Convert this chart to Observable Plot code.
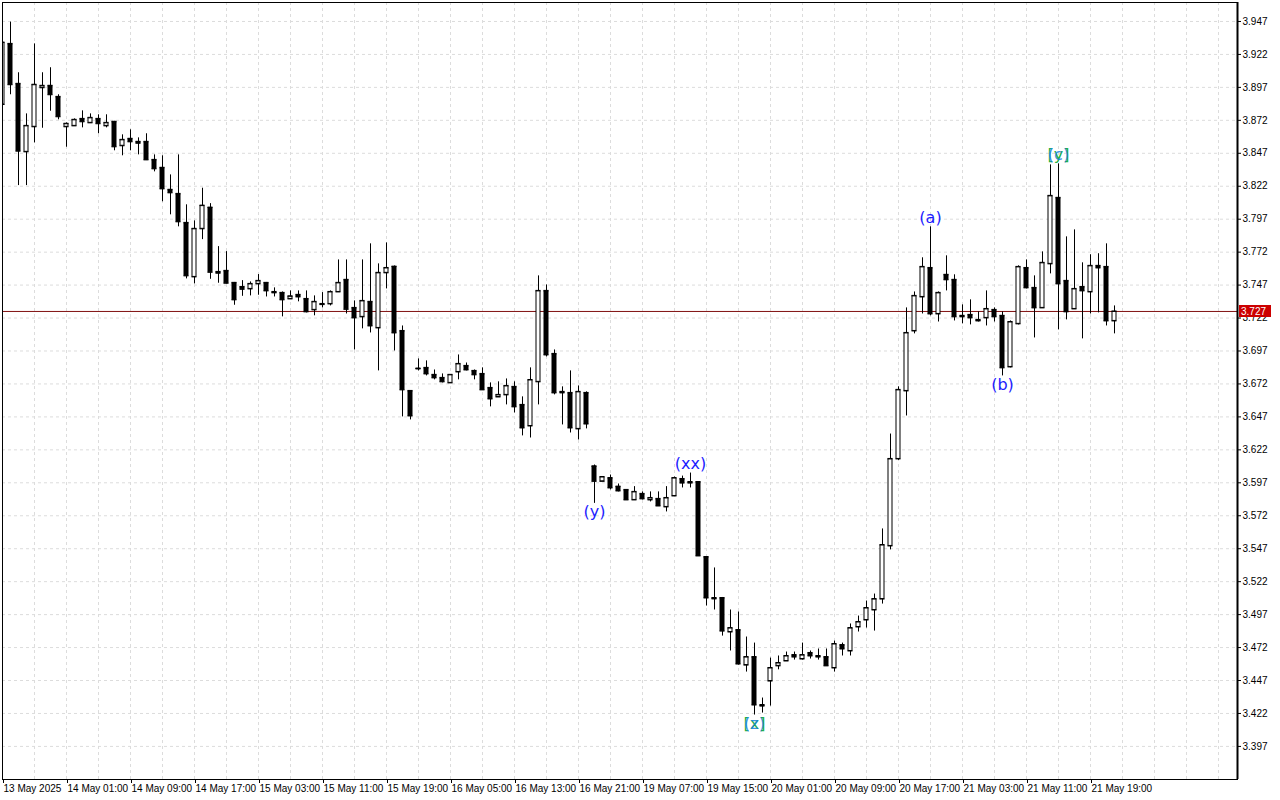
<!DOCTYPE html>
<html><head><meta charset="utf-8">
<script src="https://cdn.jsdelivr.net/npm/d3@7"></script>
<script src="https://cdn.jsdelivr.net/npm/@observablehq/plot@0.6"></script>
<style>
html,body{margin:0;padding:0;background:#fff;}
#chart svg{display:block;}
</style>
</head><body><div id="chart"></div>
<script>
// ---- Data (hourly OHLC) ----
const open = [3.884,3.930,3.8997,3.8481,3.8671,3.8967,3.8982,3.8898,3.8671,3.8678,
3.8731,3.8701,3.8731,3.8678,3.8709,3.8527,3.858,3.8557,3.8557,3.842,
3.836,3.8193,3.8162,3.7942,3.7532,3.7897,3.8058,3.757,3.7578,3.7487,
3.7456,3.7441,3.7479,3.7487,3.7418,3.7411,3.7365,3.7396,3.7365,3.7282,
3.7327,3.7327,3.7418,3.751,3.7297,3.7229,3.7343,3.7145,3.7563,3.761,
3.7122,3.6667,3.6837,3.6842,3.6789,3.6766,3.6728,3.6811,3.6857,3.6819,
3.6796,3.669,3.6621,3.6637,3.6698,3.6561,3.6401,3.6736,3.7426,3.6948,
3.666,3.6652,3.6379,3.6652,3.6095,3.5981,3.6006,3.5941,3.5916,3.584,
3.5886,3.584,3.5848,3.5787,3.587,3.5999,3.5976,3.5976,3.5407,3.5096,
3.5096,3.4838,3.4853,3.4587,3.4648,3.4284,3.4466,3.4581,3.4618,3.4663,
3.4633,3.4679,3.4656,3.4648,3.4565,3.4739,3.4694,3.4876,3.4929,3.5005,
3.5088,3.5491,3.6151,3.6667,3.7122,3.738,3.76,3.7251,3.7548,3.751,
3.7237,3.7244,3.7206,3.7221,3.7282,3.7237,3.6849,3.7176,3.76,3.7449,
3.7297,3.7631,3.8132,3.7502,3.7289,3.7456,3.7418,3.7616,3.7608,3.7198];
const high = [3.935,3.9465,3.9081,3.8769,3.930,3.9081,3.9119,3.8914,3.870,3.8731,
3.8792,3.8769,3.8762,3.8762,3.8712,3.861,3.8648,3.8587,3.8618,3.8458,
3.8451,3.8306,3.8458,3.8079,3.7957,3.8205,3.8088,3.7762,3.7724,3.749,
3.7504,3.7494,3.755,3.749,3.7449,3.7418,3.7426,3.7426,3.7426,3.7388,
3.7413,3.7426,3.7661,3.7661,3.735,3.7661,3.7783,3.7631,3.779,3.7615,
3.716,3.667,3.691,3.6895,3.6826,3.6796,3.6789,3.694,3.6879,3.6826,
3.6842,3.6728,3.6736,3.6758,3.6736,3.6622,3.6842,3.754,3.7471,3.6978,
3.6698,3.6819,3.6705,3.666,3.6105,3.6014,3.6029,3.5961,3.5916,3.5941,
3.5901,3.5901,3.5901,3.5941,3.6014,3.6021,3.6044,3.5976,3.5407,3.5324,
3.510,3.5005,3.499,3.480,3.4754,3.4337,3.464,3.4656,3.4686,3.4686,
3.4754,3.4694,3.4709,3.4709,3.4769,3.4754,3.4899,3.4959,3.5073,3.5126,
3.562,3.634,3.6698,3.7297,3.7418,3.7677,3.7912,3.7418,3.7692,3.7548,
3.732,3.7358,3.7267,3.7426,3.7297,3.7267,3.7198,3.7616,3.7661,3.754,
3.7722,3.8382,3.839,3.7836,3.7889,3.7639,3.770,3.7708,3.7783,3.7312];
const low = [3.880,3.8914,3.8225,3.8225,3.8549,3.866,3.8789,3.8724,3.8516,3.8678,
3.8663,3.8701,3.8618,3.8663,3.8489,3.8451,3.8489,3.8458,3.8415,3.8329,
3.8102,3.8003,3.7912,3.7517,3.7479,3.7815,3.7514,3.7484,3.7479,3.7317,
3.7385,3.7388,3.7393,3.738,3.738,3.7229,3.7365,3.7343,3.7259,3.7237,
3.7297,3.7312,3.7418,3.7251,3.6978,3.7138,3.7107,3.6819,3.7441,3.697,
3.647,3.6447,3.6819,3.6781,3.6751,3.6728,3.6728,3.6751,3.6819,3.6751,
3.6675,3.6546,3.6621,3.6561,3.650,3.6326,3.631,3.6561,3.6925,3.6637,
3.6409,3.6348,3.6295,3.6379,3.5814,3.5981,3.5916,3.5901,3.584,3.584,
3.584,3.5825,3.5794,3.5749,3.587,3.5931,3.5931,3.5415,3.5035,3.5005,
3.4807,3.4694,3.4587,3.4534,3.4208,3.4223,3.4276,3.4551,3.4618,3.4625,
3.4625,3.4633,3.4625,3.4581,3.4534,3.4656,3.4656,3.4838,3.4868,3.4845,
3.505,3.5461,3.6140,3.6477,3.710,3.7251,3.7237,3.719,3.7426,3.7198,
3.7176,3.7168,3.719,3.716,3.719,3.6781,3.6842,3.7168,3.7441,3.7069,
3.7297,3.7555,3.713,3.7206,3.7289,3.7062,3.7251,3.7259,3.716,3.710];
const close = [3.931,3.899,3.8486,3.8678,3.899,3.8982,3.8914,3.8747,3.8694,3.8724,
3.8709,3.8739,3.8694,3.8701,3.8519,3.8572,3.8557,3.8546,3.842,3.8352,
3.820,3.817,3.795,3.754,3.7897,3.8073,3.7567,3.756,3.7484,3.7358,
3.7438,3.7479,3.7502,3.7426,3.7411,3.7358,3.7385,3.738,3.7267,3.7343,
3.7322,3.7418,3.7487,3.7286,3.7221,3.735,3.716,3.7563,3.760,3.7107,
3.6675,3.6477,3.6834,3.6796,3.6766,3.6736,3.6789,3.6872,3.6826,3.6789,
3.6675,3.6606,3.6637,3.6705,3.6546,3.6386,3.675,3.7426,3.694,3.6652,
3.6652,3.6386,3.666,3.6416,3.5981,3.6014,3.5931,3.5908,3.584,3.5901,
3.5848,3.5855,3.5794,3.5855,3.6006,3.5968,3.5968,3.5415,3.5096,3.5089,
3.4845,3.4868,3.4595,3.4648,3.4284,3.4276,3.4565,3.4603,3.4656,3.4648,
3.4663,3.4656,3.4648,3.4581,3.4747,3.4709,3.4868,3.4914,3.502,3.5088,
3.5498,3.6151,3.6675,3.7107,3.7388,3.7608,3.7251,3.7411,3.751,3.7229,
3.7229,3.7221,3.7198,3.7289,3.7229,3.6842,3.719,3.7608,3.7449,3.7297,
3.7639,3.8147,3.7479,3.7267,3.7441,3.7426,3.7616,3.760,3.7198,3.727];

const timeLabels = ["13 May 2025","14 May 01:00","14 May 09:00","14 May 17:00","15 May 03:00",
"15 May 11:00","15 May 19:00","16 May 05:00","16 May 13:00","16 May 21:00","19 May 07:00",
"19 May 15:00","20 May 01:00","20 May 09:00","20 May 17:00","21 May 03:00","21 May 11:00","21 May 19:00"];
const barsPerLabel = 8;

const priceTicks = [3.397,3.422,3.447,3.472,3.497,3.522,3.547,3.572,3.597,3.622,3.647,3.672,
3.697,3.722,3.747,3.772,3.797,3.822,3.847,3.872,3.897,3.922,3.947];

const waveText  = ["(y)","(xx)","(z)","(a)","(b)","(c)"];
const waveAlt   = [null,null,"[x]",null,null,"[y]"];
const waveBar   = [74,86,94,116,125,132];
const waveSide  = ["below","above","below","above","below","above"];

const currentPrice = close[close.length-1];

// ---- Build ----
const bars = open.map((o,i)=>({i, o, h:high[i], l:low[i], c:close[i]}));
const waves = waveText.map((t,k)=>{
  const b = bars[waveBar[k]];
  return {i:b.i, t, alt:waveAlt[k], side:waveSide[k], y: waveSide[k]==="above" ? b.h : b.l};
});
const wavesAbove = waves.filter(d=>d.side==="above");
const wavesBelow = waves.filter(d=>d.side==="below");
const labelIdx = timeLabels.map((_,k)=>k*barsPerLabel);
const labelMap = new Map(labelIdx.map((v,k)=>[v,timeLabels[k]]));

const W=1280, H=800, mL=2, mR=43, mT=2, mB=21;
const xMax = (W-mL-mR)/8;
const half = 0.25;

const grid = {stroke:"#dcdcdc", strokeDasharray:"3,3", strokeWidth:1};
const waveFont = {fontSize:16, fontFamily:"'DejaVu Sans', sans-serif"};

function waveMarks(data, dy) {
  return [
    Plot.text(data.filter(d=>d.alt), {x:"i", y:"y", text:"alt", dy, fill:"#20b040", ...waveFont}),
    Plot.text(data.filter(d=>d.alt), {x:"i", y:"y", text:"t", dy, fill:"#1a7fe0", fillOpacity:0.85, ...waveFont}),
    Plot.text(data.filter(d=>!d.alt), {x:"i", y:"y", text:"t", dy, fill:"#1c1cff", ...waveFont})
  ];
}

const plot = Plot.plot({
  width:W, height:H,
  marginLeft:mL, marginRight:mR, marginTop:mT, marginBottom:mB,
  style:{fontFamily:"'Liberation Sans', Arial, sans-serif", fontSize:"10px", background:"#fff", color:"#000"},
  x:{type:"linear", domain:[0,xMax]},
  y:{type:"linear", domain:[3.3719,3.9614]},
  marks:[
    Plot.ruleY(priceTicks, grid),
    Plot.ruleX(d3.range(0,xMax,4), grid),
    Plot.ruleY([currentPrice], {stroke:"#801010", strokeWidth:1}),
    Plot.ruleX(bars, {x:"i", y1:"l", y2:"h", stroke:"#000", strokeWidth:1, clip:true}),
    Plot.rect(bars, {x1:d=>d.i-half, x2:d=>d.i+half,
      y1:d=>Math.min(d.o,d.c), y2:d=>Math.max(d.o,d.c),
      fill:d=>d.c>=d.o?"#fff":"#000", stroke:"#000", strokeWidth:1, clip:true}),
    Plot.ruleY(bars, {y:"c", x1:d=>d.i-half, x2:d=>d.i+half, stroke:"#000", strokeLinecap:"square", clip:true}),
    Plot.ruleY(bars, {y:"o", x1:d=>d.i-half, x2:d=>d.i+half, stroke:"#000", strokeLinecap:"square", clip:true}),
    ...waveMarks(wavesAbove, -9),
    ...waveMarks(wavesBelow, 9),
    Plot.frame({stroke:"#000"}),
    Plot.ruleX([xMax], {stroke:"#000", strokeWidth:2}),
    Plot.axisY({anchor:"right", ticks:priceTicks, tickFormat:d3.format(".3f"), tickSize:3, tickPadding:2, label:null, fontSize:10}),
    Plot.axisX({anchor:"bottom", ticks:labelIdx, tickFormat:d=>labelMap.get(d), tickSize:4, tickPadding:1,
      textAnchor:"start", dx:1, label:null, fontSize:10})
  ]
});

// current price tag on the price axis
const yPix = plot.scale("y").apply(currentPrice);
const xPix = plot.scale("x").apply(xMax);
const svg = d3.select(plot);
svg.append("rect").attr("x", xPix+2).attr("y", Math.round(yPix)-6).attr("width", 32).attr("height", 12).attr("fill","#cc0000");
svg.append("text").attr("x", xPix+4).attr("y", Math.round(yPix)).attr("dy","0.35em").attr("fill","#fff")
  .attr("text-anchor","start").attr("font-size",10)
  .attr("font-family","'Liberation Sans', Arial, sans-serif").text(d3.format(".3f")(currentPrice));

document.getElementById("chart").appendChild(plot);
</script>
</body></html>
